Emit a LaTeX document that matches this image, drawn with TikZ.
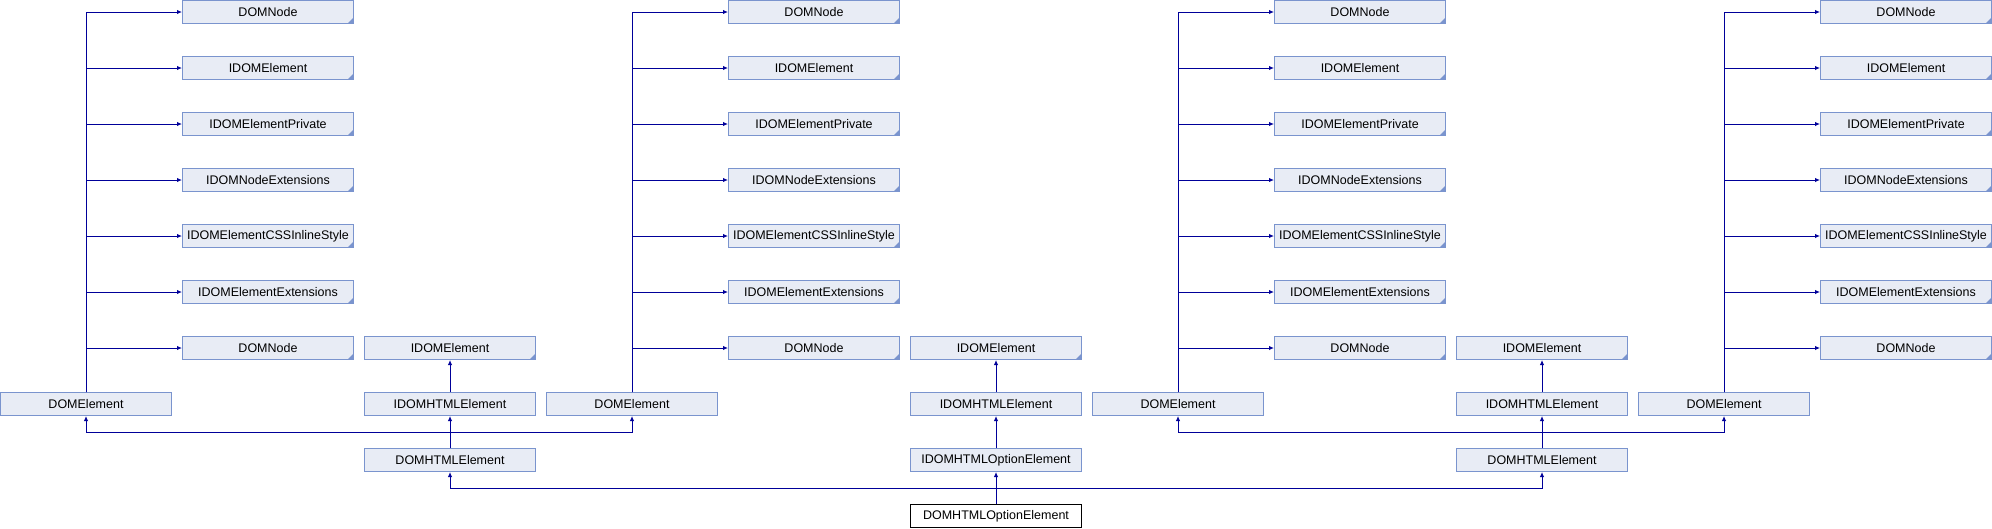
\documentclass[tikz,border=0pt]{standalone}
\usepackage{fontspec}
\setmainfont{Liberation Sans}
\usetikzlibrary{arrows.meta}

\definecolor{edgeblue}{RGB}{0,0,153}
\definecolor{boxline}{RGB}{122,148,206}
\definecolor{boxfill}{RGB}{232,236,245}

\tikzset{
  cls/.style={draw=boxline, fill=boxfill, line width=1pt, minimum width=171pt,
    minimum height=23pt, inner sep=0pt, font=\fontsize{12.5}{14}\selectfont},
  doc/.style={cls, path picture={\fill[boxline] (path picture bounding box.south east)
    -- ++(-6pt,0pt) -- ++(6pt,6pt) -- cycle;}},
  self/.style={cls, draw=black, fill=white},
  inh/.style={edgeblue, line width=1pt, -{Latex[length=5pt,width=4.5pt]}}
}

\begin{document}
\begin{tikzpicture}[x=1pt,y=-1pt]
\useasboundingbox (0,0) rectangle (1992,528);

% DOMElement roots
 \node[cls] (delA) at (86,404) {DOMElement};
 \node[cls] (delB) at (632,404) {DOMElement};
 \node[cls] (delC) at (1178,404) {DOMElement};
 \node[cls] (delD) at (1724,404) {DOMElement};

% Bases of each DOMElement
\foreach \g/\x in {A/268,B/814,C/1360,D/1906} {
 \node[doc] (dn\g) at (\x,12) {DOMNode};
 \node[doc] (ie\g) at (\x,68) {IDOMElement};
 \node[doc] (iep\g) at (\x,124) {IDOMElementPrivate};
 \node[doc] (ine\g) at (\x,180) {IDOMNodeExtensions};
 \node[doc] (css\g) at (\x,236) {IDOMElementCSSInlineStyle};
 \node[doc] (iee\g) at (\x,292) {IDOMElementExtensions};
 \node[doc] (dnb\g) at (\x,348) {DOMNode};
 \foreach \b in {dn,ie,iep,ine,css,iee,dnb}
  \draw[inh] (del\g.north) |- (\b\g.west);
}

% Interface stacks
 \node[doc] (ielA) at (450,348) {IDOMElement};
 \node[cls] (ihtmlA) at (450,404) {IDOMHTMLElement};
 \node[cls] (dhtmlA) at (450,460) {DOMHTMLElement};
 \node[doc] (ielB) at (996,348) {IDOMElement};
 \node[cls] (ihtmlB) at (996,404) {IDOMHTMLElement};
 \node[cls] (iopt) at (996,460) {IDOMHTMLOptionElement};
 \node[self] (dopt) at (996,516) {DOMHTMLOptionElement};
 \node[doc] (ielC) at (1542,348) {IDOMElement};
 \node[cls] (ihtmlC) at (1542,404) {IDOMHTMLElement};
 \node[cls] (dhtmlC) at (1542,460) {DOMHTMLElement};

 \draw[inh] (ihtmlA.north) -- (ielA.south);
 \draw[inh] (ihtmlB.north) -- (ielB.south);
 \draw[inh] (ihtmlC.north) -- (ielC.south);
 \draw[inh] (dhtmlA.north) -- (ihtmlA.south);
 \draw[inh] (dhtmlC.north) -- (ihtmlC.south);
 \draw[inh] (iopt.north) -- (ihtmlB.south);
 \draw[inh] (dopt.north) -- (iopt.south);

% Shared junctions
 \draw[inh] (dhtmlA.north) -- ++(0,-16) -| (delA.south);
 \draw[inh] (dhtmlA.north) -- ++(0,-16) -| (delB.south);
 \draw[inh] (dhtmlC.north) -- ++(0,-16) -| (delC.south);
 \draw[inh] (dhtmlC.north) -- ++(0,-16) -| (delD.south);
 \draw[inh] (dopt.north) -- ++(0,-16) -| (dhtmlA.south);
 \draw[inh] (dopt.north) -- ++(0,-16) -| (dhtmlC.south);

\end{tikzpicture}
\end{document}
